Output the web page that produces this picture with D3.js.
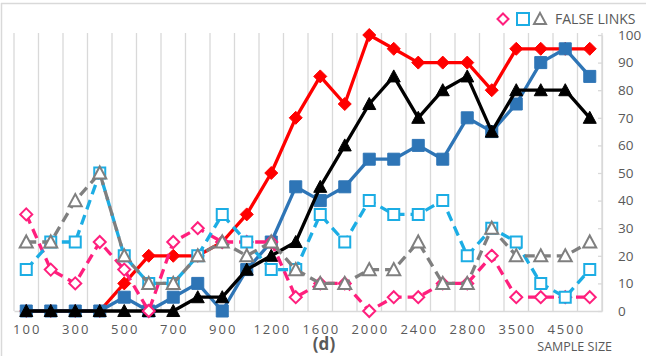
<!DOCTYPE html>
<html>
<head>
<meta charset="utf-8">
<script src="https://cdn.jsdelivr.net/npm/d3@7"></script>
<style>
  html, body { margin: 0; padding: 0; background: #fff; }
  svg { display: block; }
  text { font-family: "Open Sans", "Liberation Sans", sans-serif; fill: #595959; }
</style>
</head>
<body>
<svg id="chart" width="646" height="356"></svg>
<script>
// Sample sizes along the category axis
const categories = [100, 200, 300, 400, 500, 600, 700, 800, 900, 1000,
  1200, 1400, 1600, 1800, 2000, 2200, 2400, 2600, 2800, 3000,
  3500, 4000, 4500, 5000];
// Every other category carries a tick label
const xTickLabels = [100, 300, 500, 700, 900, 1200, 1600, 2000, 2400, 2800, 3500, 4500];
const yTicks = [0, 10, 20, 30, 40, 50, 60, 70, 80, 90, 100];

// True-link series (solid lines, filled markers)
const redValues   = [0, 0, 0, 0, 10, 20, 20, 20, 25, 35, 50, 70, 85, 75, 100, 95, 90, 90, 90, 80, 95, 95, 95, 95];
const blueValues  = [0, 0, 0, 0, 5, 0, 5, 10, 0, 15, 25, 45, 40, 45, 55, 55, 60, 55, 70, 65, 75, 90, 95, 85];
const blackValues = [0, 0, 0, 0, 0, 0, 0, 5, 5, 15, 20, 25, 45, 60, 75, 85, 70, 80, 85, 65, 80, 80, 80, 70];
// False-link series (dashed lines, hollow markers)
const pinkValues  = [35, 15, 10, 25, 15, 0, 25, 30, 25, 25, 25, 5, 10, 10, 0, 5, 5, 10, 10, 20, 5, 5, 5, 5];
const cyanValues  = [15, 25, 25, 50, 20, 10, 10, 20, 35, 25, 15, 15, 35, 25, 40, 35, 35, 40, 20, 30, 25, 10, 5, 15];
const grayValues  = [25, 25, 40, 50, 20, 10, 10, 20, 25, 20, 25, 15, 10, 10, 15, 15, 25, 10, 10, 30, 20, 20, 20, 25];

const legendLabel = "FALSE LINKS";
const panelLabel = "(d)";
const axisTitle = "SAMPLE SIZE";

const svg = d3.select("#chart");

const x = d3.scaleBand().domain(categories).range([14, 602]).padding(0);
const y = d3.scaleLinear().domain([0, 100]).range([311, 35]);
const cx = c => x(c) + x.bandwidth() / 2;

// Custom marker shapes (size = full width in px)
const diamond = { draw(ctx, s) { const r = s / 2; ctx.moveTo(0, -r); ctx.lineTo(r, 0); ctx.lineTo(0, r); ctx.lineTo(-r, 0); ctx.closePath(); } };
const square = { draw(ctx, s) { const r = s / 2; ctx.rect(-r, -r, s, s); } };
const triangle = { draw(ctx, s) { const r = s / 2; const h = s * 0.85; ctx.moveTo(0, -h / 2 - 1); ctx.lineTo(r, h / 2); ctx.lineTo(-r, h / 2); ctx.closePath(); } };

// Outer frame lines
svg.append("line").attr("x1", 1).attr("x2", 646).attr("y1", 3.5).attr("y2", 3.5)
  .attr("stroke", "#d9d9d9").attr("stroke-width", 1.5);
svg.append("line").attr("x1", 1.5).attr("x2", 1.5).attr("y1", 3).attr("y2", 356)
  .attr("stroke", "#d9d9d9").attr("stroke-width", 1.5);

// Vertical gridlines at category boundaries
const bounds = categories.map(c => x(c)).concat([x.range()[1]]);
svg.append("g").selectAll("line").data(bounds).join("line")
  .attr("x1", d => d).attr("x2", d => d)
  .attr("y1", y(100) - 2).attr("y2", y(0))
  .attr("stroke", "#d9d9d9").attr("stroke-width", 1.3);

// Category axis (baseline + labels)
const xAxis = svg.append("g").attr("transform", `translate(0,${y(0)})`)
  .call(d3.axisBottom(x).tickValues(xTickLabels).tickSize(0).tickPadding(14));
xAxis.select(".domain").attr("stroke", "#d9d9d9").attr("stroke-width", 1.3);
xAxis.selectAll("text").style("font-size", "13px").style("letter-spacing", "2px")
  .attr("fill", "#595959").attr("dx", "1px");

// Value axis on the right
const yAxis = svg.append("g").attr("transform", `translate(${x.range()[1]},0)`)
  .call(d3.axisRight(y).tickValues(yTicks).tickSizeInner(-4).tickSizeOuter(0).tickPadding(16));
yAxis.select(".domain").attr("stroke", "#d9d9d9").attr("stroke-width", 1.3);
yAxis.selectAll(".tick line").attr("stroke", "#d9d9d9").attr("stroke-width", 1.3);
yAxis.selectAll("text").style("font-size", "13.5px").attr("fill", "#595959");

const series = [
  { values: redValues,   color: "#ff0000", dash: null,   shape: diamond,  size: 13, hollow: false },
  { values: blueValues,  color: "#2e75b6", dash: null,   shape: square,   size: 12, hollow: false },
  { values: blackValues, color: "#000000", dash: null,   shape: triangle, size: 13, hollow: false },
  { values: pinkValues,  color: "#ff1f7d", dash: "10,6", shape: diamond,  size: 12, hollow: true },
  { values: cyanValues,  color: "#1cade4", dash: "10,6", shape: square,   size: 11, hollow: true },
  { values: grayValues,  color: "#7f7f7f", dash: "10,6", shape: triangle, size: 13, hollow: true }
];

const line = d3.line().x(d => cx(d.c)).y(d => y(d.v));

series.forEach(s => {
  const pts = categories.map((c, i) => ({ c, v: s.values[i] }));
  const g = svg.append("g");
  g.append("path").datum(pts).attr("d", line)
    .attr("fill", "none").attr("stroke", s.color).attr("stroke-width", 3.3)
    .attr("stroke-linejoin", "round").attr("stroke-dasharray", s.dash);
  g.selectAll("path.m").data(pts).join("path").attr("class", "m")
    .attr("transform", d => `translate(${cx(d.c)},${y(d.v)})`)
    .attr("d", d3.symbol().type(s.shape).size(s.size))
    .attr("fill", s.hollow ? "#ffffff" : s.color)
    .attr("stroke", s.color).attr("stroke-width", s.hollow ? 2 : 1);
});

// Legend for the hollow (false-link) markers
const legend = svg.append("g").attr("transform", "translate(0,19)");
[
  { shape: diamond, color: "#ff1f7d", x: 503, size: 11 },
  { shape: square, color: "#1cade4", x: 523, size: 12 },
  { shape: triangle, color: "#7f7f7f", x: 540, size: 12 }
].forEach(m => {
  legend.append("path").attr("transform", `translate(${m.x},0)`)
    .attr("d", d3.symbol().type(m.shape).size(m.size)())
    .attr("fill", "none").attr("stroke", m.color).attr("stroke-width", 2);
});
legend.append("text").attr("x", 555).attr("y", 5).style("font-size", "14px").text(legendLabel);

// Panel and axis titles
svg.append("text").attr("x", 324).attr("y", 350).attr("text-anchor", "middle")
  .style("font-size", "17px").style("font-weight", "bold").attr("fill", "#404040").text(panelLabel);
svg.append("text").attr("x", 612).attr("y", 351).attr("text-anchor", "end")
  .style("font-size", "12.5px").text(axisTitle);
</script>
</body>
</html>
